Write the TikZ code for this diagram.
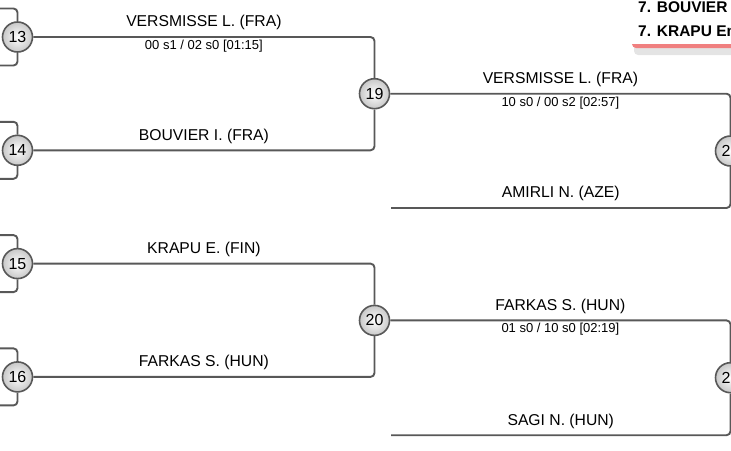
\documentclass[tikz,border=0pt]{standalone}
\usepackage{fontspec}
\setmainfont{Liberation Sans}
\usepackage{xcolor}
\usepackage{tikz}
\usetikzlibrary{positioning}
\definecolor{wiregray}{RGB}{88,88,88}
\definecolor{ballgray}{RGB}{200,200,200}
\definecolor{rankred}{RGB}{240,128,128}
\definecolor{shadegray}{RGB}{228,228,228}

\begin{document}
\begin{tikzpicture}[x=1pt, y=-1pt, on grid,
bout/.style={circle, draw=wiregray, line width=1.6pt, inner color=white, outer color=ballgray, minimum size=30pt, inner sep=0pt, font=\fontsize{16}{16}\selectfont},
wire/.style={draw=wiregray, line width=1.9pt, rounded corners=4pt},
fencer/.style={above=6pt, inner sep=0pt, font=\fontsize{15.7}{18}\selectfont},
score/.style={below=2pt, inner sep=0pt, font=\fontsize{13}{15}\selectfont},
board/.style={anchor=west, inner sep=0pt, font=\bfseries\fontsize{15.5}{18}\selectfont}
]
\path[use as bounding box, clip] (0,0) rectangle (731,450);

% ranking card, top right
\fill[shadegray, rounded corners=4pt] (634,-10) rectangle (790,55);
\fill[rankred, rounded corners=4pt] (632,-10) rectangle (790,48);
\fill[white] (632,-10) rectangle (790,44);
\node[board] (rk1) at (638,7) {7. BOUVIER};
\node[board] (rk2) at (638,31) {7. KRAPU Em};

% bouts
\node[bout] (c13) at (17.5,37) {13};
\node[bout, below=113.3pt of c13] (c14) {14};
\node[bout, below=113.3pt of c14] (c15) {15};
\node[bout, below=113.3pt of c15] (c16) {16};
\node[bout, below right=56.7pt and 357pt of c13] (c19) {19};
\node[bout, below=226.7pt of c19] (c20) {20};
\node[bout, below right=57.3pt and 356pt of c19] (c21) {2\phantom{1}};
\node[bout, below=226.7pt of c21] (c22) {2\phantom{1}};

% loose ends
\coordinate[above left=28.5pt and 25pt of c13] (in13a);
\coordinate[below left=28.5pt and 25pt of c13] (in13b);
\coordinate[above left=28.5pt and 25pt of c14] (in14a);
\coordinate[below left=28.5pt and 25pt of c14] (in14b);
\coordinate[above left=28.5pt and 25pt of c15] (in15a);
\coordinate[below left=28.5pt and 25pt of c15] (in15b);
\coordinate[above left=28.5pt and 25pt of c16] (in16a);
\coordinate[below left=28.5pt and 25pt of c16] (in16b);
\coordinate[below left=57pt and 339.5pt of c21] (in21);
\coordinate[below left=57.5pt and 339.5pt of c22] (in22);

\draw[wire] (in13a) -| (c13);
\draw[wire] (in13b) -| (c13);
\draw[wire] (in14a) -| (c14);
\draw[wire] (in14b) -| (c14);
\draw[wire] (in15a) -| (c15);
\draw[wire] (in15b) -| (c15);
\draw[wire] (in16a) -| (c16);
\draw[wire] (in16b) -| (c16);

\draw[wire] (c13) -| node[pos=0.25, fencer] {VERSMISSE L. (FRA)} node[pos=0.25, score] {00 s1 / 02 s0 [01:15]} (c19);
\draw[wire] (c14) -| node[pos=0.25, fencer] {BOUVIER I. (FRA)} (c19);
\draw[wire] (c15) -| node[pos=0.25, fencer] {KRAPU E. (FIN)} (c20);
\draw[wire] (c16) -| node[pos=0.25, fencer] {FARKAS S. (HUN)} (c20);

\draw[wire] (c19) -| node[pos=0.25, fencer] {VERSMISSE L. (FRA)} node[pos=0.25, score] {10 s0 / 00 s2 [02:57]} (c21);
\draw[wire] (in21) -| node[pos=0.25, fencer] {AMIRLI N. (AZE)} (c21);
\draw[wire] (c20) -| node[pos=0.25, fencer] {FARKAS S. (HUN)} node[pos=0.25, score] {01 s0 / 10 s0 [02:19]} (c22);
\draw[wire] (in22) -| node[pos=0.25, fencer] {SAGI N. (HUN)} (c22);
\end{tikzpicture}
\end{document}
